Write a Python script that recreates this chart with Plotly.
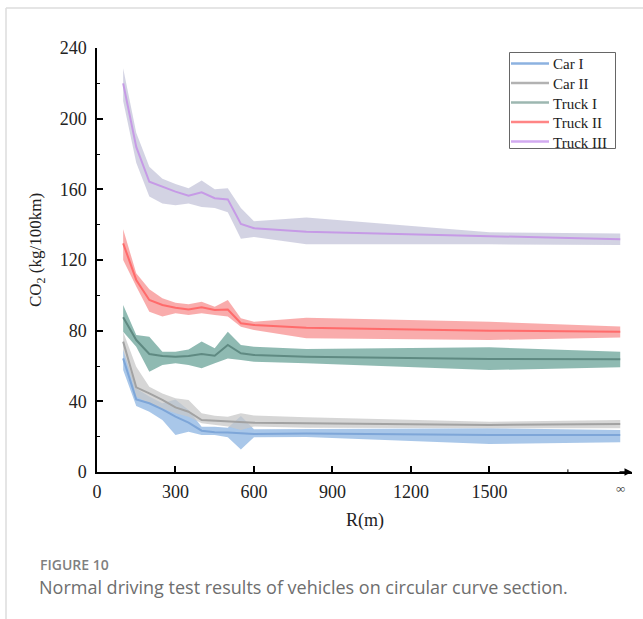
import plotly.graph_objects as go

R = [100, 150, 200, 250, 300, 350, 400, 450, 500, 550, 600, 800, 1500, 2000]
series_names = ["Car I", "Car II", "Truck I", "Truck II", "Truck III"]

car1_mean = [64.3, 41.1, 38.9, 35.5, 31.3, 27.9, 23.4, 22.5, 22.3, 22.0, 21.5, 21.8, 21.0, 20.9]
car1_up = [69.4, 47.3, 42.7, 38.9, 41.1, 35.1, 25.6, 25.6, 25.0, 31.7, 24.2, 24.3, 24.7, 23.8]
car1_lo = [57.7, 37.4, 34.1, 29.4, 20.9, 22.8, 20.9, 20.9, 19.6, 12.8, 19.6, 19.8, 15.8, 16.8]

car2_mean = [73.8, 47.9, 44.5, 40.8, 36.6, 34.1, 29.4, 29.0, 28.5, 28.1, 27.9, 27.6, 26.6, 27.2]
car2_up = [79.4, 59.6, 48.3, 44.5, 41.7, 40.8, 33.2, 31.9, 31.3, 33.2, 32.0, 31.0, 28.5, 29.4]
car2_lo = [69.0, 42.6, 38.9, 36.0, 33.2, 31.3, 27.6, 26.6, 25.7, 23.8, 25.7, 25.0, 25.0, 24.7]

truck1_mean = [87.6, 74.7, 66.8, 65.7, 65.3, 65.7, 66.8, 65.8, 71.9, 67.2, 66.2, 65.3, 64.0, 63.8]
truck1_up = [94.5, 77.5, 76.6, 68.1, 68.1, 69.4, 73.8, 70.0, 79.4, 71.9, 70.9, 69.6, 70.6, 68.1]
truck1_lo = [79.4, 70.9, 56.8, 60.6, 61.5, 60.6, 58.7, 61.5, 64.3, 63.4, 62.4, 61.5, 57.7, 59.3]

truck2_mean = [129.4, 108.7, 97.4, 94.5, 93.0, 92.0, 93.2, 91.7, 92.0, 84.2, 83.2, 81.7, 80.0, 79.4]
truck2_up = [137.4, 112.5, 103.4, 98.3, 95.8, 94.9, 96.4, 93.6, 97.4, 87.0, 85.0, 87.3, 85.0, 82.3]
truck2_lo = [120.0, 105.0, 90.7, 88.0, 89.8, 88.9, 89.8, 88.9, 88.0, 82.2, 80.4, 75.7, 74.7, 76.2]

truck3_mean = [220.0, 184.0, 164.3, 161.5, 158.7, 156.4, 158.3, 155.0, 154.3, 140.4, 138.0, 136.0, 133.6, 131.7]
truck3_up = [228.5, 192.0, 172.8, 166.0, 163.0, 160.6, 165.0, 160.0, 160.6, 149.5, 142.0, 144.0, 135.7, 135.0]
truck3_lo = [210.0, 175.0, 156.0, 152.0, 151.0, 152.0, 150.0, 149.5, 147.0, 132.0, 133.0, 128.9, 128.9, 128.5]

x_tickvals = [0, 300, 600, 900, 1200, 1500]
x_ticktext = ["0", "300", "600", "900", "1200", "1500"]
y_tickvals = [0, 40, 80, 120, 160, 200, 240]

means = [car1_mean, car2_mean, truck1_mean, truck2_mean, truck3_mean]
ups = [car1_up, car2_up, truck1_up, truck2_up, truck3_up]
los = [car1_lo, car2_lo, truck1_lo, truck2_lo, truck3_lo]
line_colors = ["#7ea6d8", "#a2a2a2", "#5f8a82", "#ff6b6b", "#c69ae6"]
legend_colors = ["#8cb2e0", "#b2b2b2", "#9db7b1", "#ff8585", "#d2aaf0"]
band_colors = ["rgba(140,180,225,0.75)", "rgba(200,200,200,0.75)", "rgba(100,160,148,0.72)",
               "rgba(246,140,140,0.72)", "rgba(196,196,218,0.75)"]

fig = go.Figure()
for i in range(5):
    fig.add_trace(go.Scatter(
        x=R + R[::-1], y=ups[i] + los[i][::-1], fill="toself",
        fillcolor=band_colors[i], line=dict(width=0), mode="lines",
        hoverinfo="skip", showlegend=False))
for i in range(5):
    fig.add_trace(go.Scatter(
        x=R, y=means[i], mode="lines", name=series_names[i], showlegend=False,
        line=dict(color=line_colors[i], width=2)))

serif = "Liberation Serif"
fig.update_layout(
    width=643, height=619,
    margin=dict(l=97, r=11, t=48, b=147),
    paper_bgcolor="white", plot_bgcolor="white",
    font=dict(family=serif, size=18, color="#222"),
    showlegend=False,
)
fig.update_xaxes(range=[0, 2045], showline=True, linecolor="black", linewidth=1.5,
                 ticks="inside", ticklen=6, tickwidth=1.5, tickcolor="black",
                 tickvals=x_tickvals, ticktext=x_ticktext, showgrid=False,
                 zeroline=False, ticklabelstandoff=3,
                 tickfont=dict(family=serif, size=18, color="#222"))
fig.update_yaxes(range=[0, 240], showline=True, linecolor="black", linewidth=1.5,
                 ticks="inside", ticklen=6, tickwidth=1.5, tickcolor="black",
                 tickvals=y_tickvals, showgrid=False, zeroline=False,
                 minor=dict(ticks="inside", ticklen=3, tickwidth=1, tickcolor="black",
                            dtick=20, showgrid=False),
                 ticklabelstandoff=5,
                 tickfont=dict(family=serif, size=18, color="#222"))

def px_x(p):
    return (p - 97) / 535.0

def px_y(p):
    return (472 - p) / 424.0

# manual legend
fig.add_shape(type="rect", xref="paper", yref="paper",
              x0=px_x(509.5), x1=px_x(615.5), y0=px_y(52.5), y1=px_y(148.5),
              line=dict(color="#666", width=1), fillcolor="white", layer="above")
leg_y = [63.5, 83, 102.5, 122, 141.5]
for i in range(5):
    fig.add_shape(type="line", xref="paper", yref="paper",
                  x0=px_x(511), x1=px_x(549), y0=px_y(leg_y[i]), y1=px_y(leg_y[i]),
                  line=dict(color=legend_colors[i], width=2.5), layer="above")
    fig.add_annotation(x=px_x(550.5), y=px_y(leg_y[i] + 1), xref="paper", yref="paper",
                       xanchor="left", yanchor="middle", text=series_names[i],
                       showarrow=False, font=dict(family=serif, size=15, color="#222"))

# infinity label and arrow
fig.add_annotation(x=2000, y=px_y(488), xref="x", yref="paper", text="∞",
                   xanchor="center", yanchor="middle",
                   showarrow=False, font=dict(family=serif, size=13, color="#444"))
fig.add_annotation(x=2045, y=0, xref="x", yref="y", ax=-14, ay=0, text="",
                   showarrow=True, arrowhead=2, arrowsize=1, arrowwidth=1.5,
                   arrowcolor="black")
fig.add_shape(type="line", x0=1800, x1=1800, y0=0, y1=1.5, xref="x", yref="y",
              line=dict(color="black", width=1))

# axis titles
fig.add_annotation(x=px_x(365), y=px_y(520), xref="paper", yref="paper",
                   xanchor="center", yanchor="middle",
                   text="R(m)", showarrow=False,
                   font=dict(family=serif, size=18, color="#222"))
fig.add_annotation(x=px_x(37), y=px_y(250), xref="paper", yref="paper",
                   xanchor="center", yanchor="middle",
                   text="CO<sub>2</sub> (kg/100km)", textangle=-90, showarrow=False,
                   font=dict(family=serif, size=17, color="#222"))

# caption
fig.add_annotation(x=px_x(38), y=px_y(564), xref="paper", yref="paper",
                   xanchor="left", yanchor="middle", text="FIGURE 10", showarrow=False,
                   font=dict(family="Open Sans", size=14, color="#808080", weight=600))
fig.add_annotation(x=px_x(37), y=px_y(587), xref="paper", yref="paper",
                   xanchor="left", yanchor="middle",
                   text="Normal driving test results of vehicles on circular curve section.",
                   showarrow=False, font=dict(family="Open Sans", size=18, color="#6e6e6e"))

# page frame lines
fig.add_shape(type="line", xref="paper", yref="paper", x0=px_x(6), x1=px_x(643),
              y0=px_y(8), y1=px_y(8), line=dict(color="#dcdcdc", width=1.5))
fig.add_shape(type="line", xref="paper", yref="paper", x0=px_x(6), x1=px_x(6),
              y0=px_y(8), y1=px_y(619), line=dict(color="#dcdcdc", width=1.5))

fig.write_html("out.html")
